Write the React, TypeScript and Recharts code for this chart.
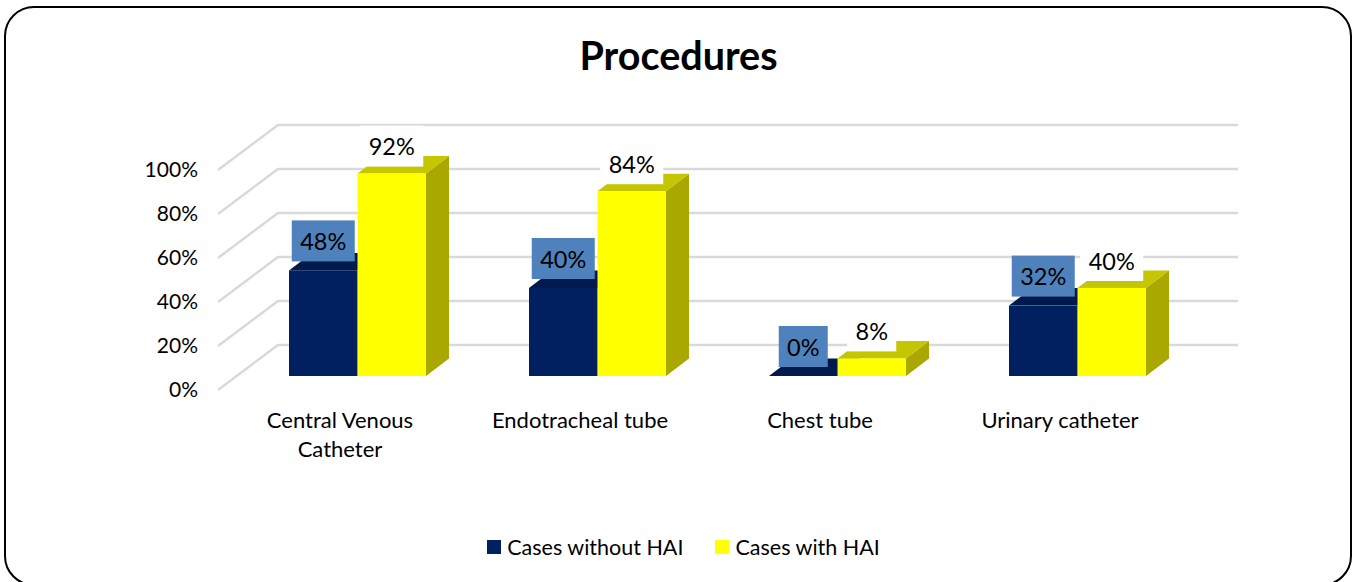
import { BarChart, Bar, XAxis, YAxis, CartesianGrid, Legend, LabelList } from 'recharts';

const categories = ['Central Venous Catheter', 'Endotracheal tube', 'Chest tube', 'Urinary catheter'];
const casesWithoutHai = [48, 40, 0, 32];
const casesWithHai = [92, 84, 8, 40];
const yTicks = [0, 20, 40, 60, 80, 100];

const data = categories.map((name, i) => ({
  name,
  without: casesWithoutHai[i],
  with: casesWithHai[i],
}));

const FONT = 'Lato, sans-serif';
// fake 3D: how far the back of a bar sits from its front
const DEPTH_X = 23;
const DEPTH_Y = 17.5;
const BAR_SHIFT = 17;
const MAX_LINE_CHARS = 17;

function wrapLabel(label: string) {
  const lines: string[] = [];
  label.split(' ').forEach((word) => {
    const last = lines[lines.length - 1];
    if (last && (last + ' ' + word).length <= MAX_LINE_CHARS) lines[lines.length - 1] = last + ' ' + word;
    else lines.push(word);
  });
  return lines;
}

function Bar3D({ x, y, width, height, fill, topFill, sideFill }: any) {
  const left = x + BAR_SHIFT;
  const right = left + width;
  const bottom = y + height;
  return (
    <g>
      <path
        d={`M${right},${y} L${right + DEPTH_X},${y - DEPTH_Y} L${right + DEPTH_X},${bottom - DEPTH_Y} L${right},${bottom} Z`}
        fill={sideFill}
      />
      <path
        d={`M${left},${y} L${left + DEPTH_X},${y - DEPTH_Y} L${right + DEPTH_X},${y - DEPTH_Y} L${right},${y} Z`}
        fill={topFill}
      />
      {height > 0 && <rect x={left} y={y} width={width} height={height} fill={fill} />}
    </g>
  );
}

function BoxLabel({ x, y, width, value, box, lift }: any) {
  const cx = x + BAR_SHIFT + width / 2;
  const cy = y - lift;
  const boxWidth = value < 10 ? 49 : 63;
  return (
    <g>
      <rect x={cx - boxWidth / 2} y={cy - 20.5} width={boxWidth} height={41} fill={box} />
      <text x={cx} y={cy} textAnchor="middle" dominantBaseline="central" fontFamily={FONT} fontSize={23.5} fill="#000">
        {value}%
      </text>
    </g>
  );
}

function GridLine({ x1, y1, x2 }: any) {
  return (
    <path
      d={`M${x1 - 2},${y1 + 14} L${x1 + 58},${y1 - 31} L${x2 + 58},${y1 - 31}`}
      fill="none"
      stroke="#d9d9d9"
      strokeWidth={2.5}
    />
  );
}

function YTick({ y, payload }: any) {
  return (
    <text x={198} y={y + 12.5} textAnchor="end" dominantBaseline="central" fontFamily={FONT} fontSize={21} fill="#000">
      {payload.value}%
    </text>
  );
}

function XTick({ x, payload }: any) {
  return (
    <text textAnchor="middle" fontFamily={FONT} fontSize={22} fill="#000">
      {wrapLabel(payload.value).map((line, i) => (
        <tspan key={line} x={x} y={428 + i * 29}>
          {line}
        </tspan>
      ))}
    </text>
  );
}

function LegendRow({ payload }: any) {
  return (
    <div style={{ display: 'flex', justifyContent: 'center', height: 24, alignItems: 'center', fontFamily: FONT, fontSize: 21.5, color: '#000', paddingLeft: 13 }}>
      {(payload || []).map((item: any, i: number) => (
        <div key={item.value} style={{ display: 'flex', alignItems: 'center', marginLeft: i ? 32 : 0 }}>
          <span style={{ width: 14, height: 14, background: item.color, marginRight: 6 }} />
          {item.value}
        </div>
      ))}
    </div>
  );
}

export default function App() {
  return (
    <div style={{ position: 'absolute', left: 0, top: 0, width: 1354, height: 582, overflow: 'hidden', background: '#fff' }}>
      <div
        style={{
          position: 'absolute',
          left: 4,
          top: 6,
          width: 1343.5,
          height: 576,
          border: '2.5px solid #000',
          borderRadius: 30,
        }}
      />
      <div
        style={{
          position: 'absolute',
          left: 0,
          top: 29,
          width: 1357,
          textAlign: 'center',
          fontFamily: FONT,
          fontWeight: 700,
          fontSize: 39.5,
          lineHeight: '52px',
          color: '#000',
        }}
      >
        Procedures
      </div>
      <div style={{ position: 'absolute', left: 0, top: 0 }}>
        <BarChart
          width={1354}
          height={582}
          data={data}
          margin={{ top: 156, right: 174, bottom: 82, left: 0 }}
          barSize={68.5}
          barGap={0}
        >
          <CartesianGrid vertical={false} horizontal={(p: any) => <GridLine key={p.y1} {...p} />} />
          <XAxis dataKey="name" axisLine={false} tickLine={false} interval={0} height={100} tick={<XTick />} />
          <YAxis
            domain={[0, 100]}
            ticks={yTicks}
            width={220}
            axisLine={false}
            tickLine={false}
            tick={<YTick />}
          />
          <Legend
            verticalAlign="bottom"
            itemSorter={null as any}
            wrapperStyle={{ left: 0, width: 1354, bottom: 23 }}
            content={<LegendRow />}
          />
          <Bar
            dataKey="without"
            name="Cases without HAI"
            fill="#002060"
            isAnimationActive={false}
            shape={<Bar3D topFill="#001a4d" sideFill="#001a4d" />}
          >
            <LabelList dataKey="without" content={<BoxLabel box="#4f81bd" lift={29.5} />} />
          </Bar>
          <Bar
            dataKey="with"
            name="Cases with HAI"
            fill="#ffff00"
            isAnimationActive={false}
            shape={<Bar3D topFill="#c6c600" sideFill="#a8a800" />}
          >
            <LabelList dataKey="with" content={<BoxLabel box="#ffffff" lift={27.5} />} />
          </Bar>
        </BarChart>
      </div>
    </div>
  );
}
